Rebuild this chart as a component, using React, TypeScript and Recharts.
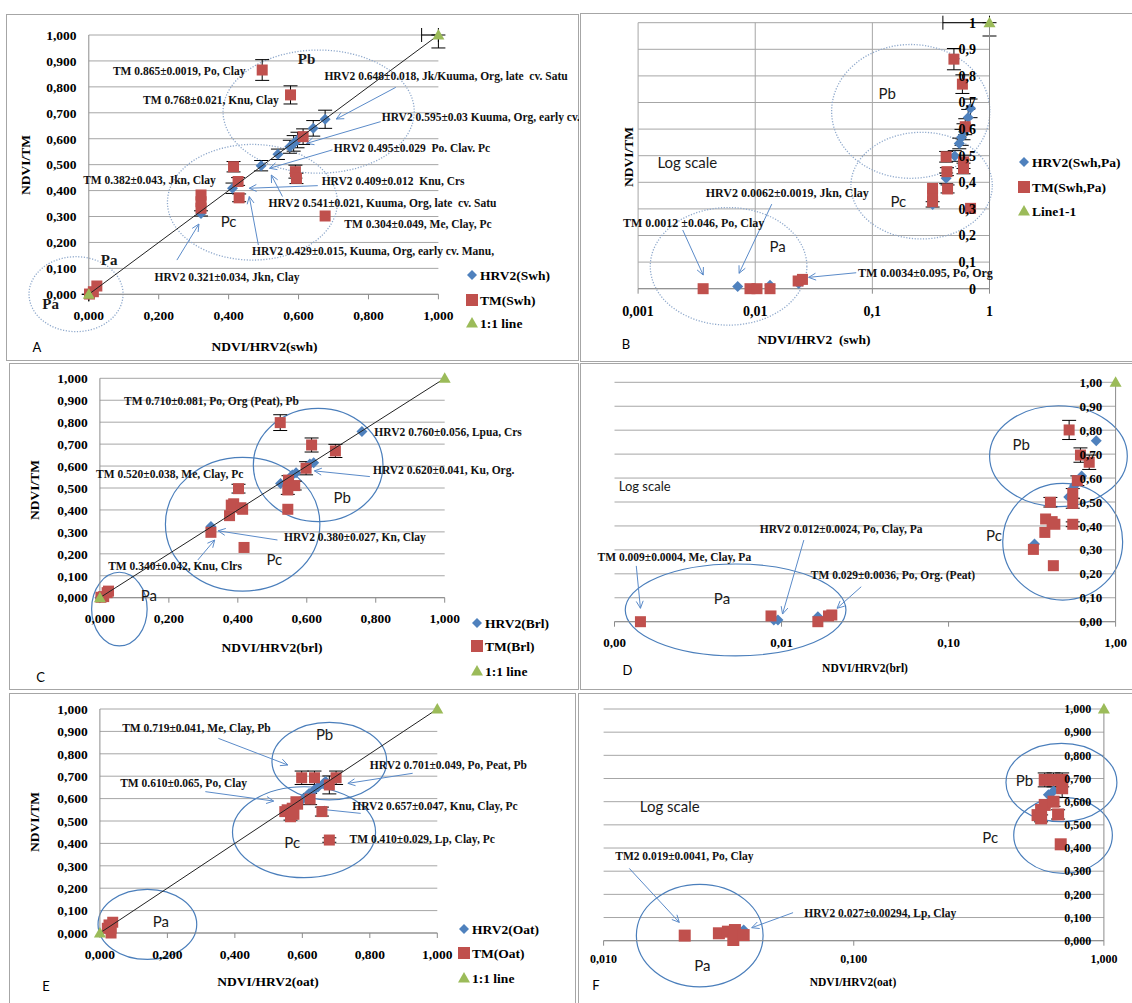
// Six-panel NDVI comparison figure (HRV2 vs TM), linear and log scale versions

import React from 'react';
import {
  ScatterChart, Scatter, XAxis, YAxis, CartesianGrid, ErrorBar,
  ReferenceArea, ReferenceDot, ReferenceLine, Legend,
} from 'recharts';

const BLUE = '#4F81BD';
const RED = '#C0504D';
const GREEN = '#9BBB59';
const GRID = '#A6A6A6';
const AXIS = '#8C8C8C';
const ARROW = '#5B8BC9';
const SERIF = '"Liberation Serif", "Times New Roman", serif';
const SANS = 'Lato, "Open Sans", sans-serif';

// ---------- tick values and labels ----------
const linTicksX = [0, 0.2, 0.4, 0.6, 0.8, 1];
const linLabelsX = ['0,000', '0,200', '0,400', '0,600', '0,800', '1,000'];
const linTicksY = [0, 0.1, 0.2, 0.3, 0.4, 0.5, 0.6, 0.7, 0.8, 0.9, 1];
const linLabelsY = ['0,000', '0,100', '0,200', '0,300', '0,400', '0,500', '0,600', '0,700', '0,800', '0,900', '1,000'];
const logTicksB = [0.001, 0.01, 0.1, 1];
const logLabelsB = ['0,001', '0,01', '0,1', '1'];
const yLabelsB = ['0', '0,1', '0,2', '0,3', '0,4', '0,5', '0,6', '0,7', '0,8', '0,9', '1'];
const logTicksD = [0.001, 0.01, 0.1, 1];
const logLabelsD = ['0,00', '0,01', '0,10', '1,00'];
const yLabelsD = ['0,00', '0,10', '0,20', '0,30', '0,40', '0,50', '0,60', '0,70', '0,80', '0,90', '1,00'];
const logTicksF = [0.01, 0.1, 1];
const logLabelsF = ['0,010', '0,100', '1,000'];

// ---------- series values (x, y, e = error) ----------
const hrv2Swh = [
  { x: 0.002, y: 0.004 }, { x: 0.321, y: 0.312, e: 0.01 }, { x: 0.411, y: 0.409, e: 0.02 },
  { x: 0.493, y: 0.496, e: 0.02 }, { x: 0.541, y: 0.54, e: 0.02 }, { x: 0.575, y: 0.569, e: 0.025 },
  { x: 0.586, y: 0.582, e: 0.03 }, { x: 0.597, y: 0.595, e: 0.03 }, { x: 0.642, y: 0.64, e: 0.03 },
  { x: 0.676, y: 0.675, e: 0.035 },
];
const tmSwh = [
  { x: 0.002, y: 0.001 }, { x: 0.013, y: 0.01 }, { x: 0.023, y: 0.032 },
  { x: 0.321, y: 0.332 }, { x: 0.321, y: 0.357 }, { x: 0.321, y: 0.383 },
  { x: 0.414, y: 0.492, e: 0.02 }, { x: 0.427, y: 0.435, e: 0.015 }, { x: 0.43, y: 0.372, e: 0.015 },
  { x: 0.496, y: 0.865, e: 0.04 }, { x: 0.577, y: 0.769, e: 0.035 }, { x: 0.591, y: 0.473, e: 0.025 },
  { x: 0.594, y: 0.447, e: 0.02 }, { x: 0.613, y: 0.608, e: 0.03 }, { x: 0.676, y: 0.302 },
];
const line11Swh = [{ x: 0, y: 0, ex: [0, 0], ey: [0, 0] }, { x: 1, y: 1, ex: [0.048, 0], ey: [0.05, 0] }];

const hrv2SwhPa = [
  { x: 0.00708, y: 0.008 }, { x: 0.01337, y: 0.013 }, { x: 0.0235, y: 0.02 },
  { x: 0.327, y: 0.317, e: 0.01 }, { x: 0.4265, y: 0.415, e: 0.02 }, { x: 0.505, y: 0.499, e: 0.02 },
  { x: 0.552, y: 0.546, e: 0.02 }, { x: 0.577, y: 0.569, e: 0.03 }, { x: 0.6, y: 0.59, e: 0.03 },
  { x: 0.658, y: 0.644, e: 0.03 }, { x: 0.689, y: 0.678, e: 0.035 },
];
const tmSwhPa = [
  { x: 0.00359, y: 0 }, { x: 0.00902, y: 0 }, { x: 0.01035, y: 0 }, { x: 0.01337, y: 0 },
  { x: 0.02325, y: 0.029 }, { x: 0.0253, y: 0.035 },
  { x: 0.3265, y: 0.327 }, { x: 0.3265, y: 0.35 }, { x: 0.3265, y: 0.377 },
  { x: 0.4265, y: 0.496, e: 0.02 }, { x: 0.433, y: 0.44, e: 0.015 }, { x: 0.4385, y: 0.375, e: 0.015 },
  { x: 0.497, y: 0.863, e: 0.04 }, { x: 0.587, y: 0.769, e: 0.035 }, { x: 0.6, y: 0.477, e: 0.025 },
  { x: 0.6, y: 0.452, e: 0.02 }, { x: 0.621, y: 0.609, e: 0.03 }, { x: 0.689, y: 0.302 },
];
const line11SwhPa = [{ x: 1, y: 1, ex: [0.6, 0], ey: [0.05, 0] }];

const hrv2Brl = [
  { x: 0, y: 0 }, { x: 0.011, y: 0.008 }, { x: 0.322, y: 0.324 }, { x: 0.524, y: 0.521 },
  { x: 0.558, y: 0.559 }, { x: 0.569, y: 0.57 }, { x: 0.609, y: 0.609 }, { x: 0.62, y: 0.615 },
  { x: 0.76, y: 0.757 },
];
const tmBrl = [
  { x: 0.003, y: 0.002 }, { x: 0.011, y: 0.005 }, { x: 0.021, y: 0.023 }, { x: 0.025, y: 0.03 },
  { x: 0.322, y: 0.298 }, { x: 0.376, y: 0.374 }, { x: 0.381, y: 0.422 }, { x: 0.388, y: 0.428 },
  { x: 0.402, y: 0.497, e: 0.02 }, { x: 0.409, y: 0.41 }, { x: 0.414, y: 0.403 }, { x: 0.418, y: 0.229 },
  { x: 0.523, y: 0.798, e: 0.036 }, { x: 0.545, y: 0.491, e: 0.02 }, { x: 0.545, y: 0.403 },
  { x: 0.547, y: 0.536, e: 0.02 }, { x: 0.565, y: 0.511, e: 0.02 }, { x: 0.598, y: 0.59, e: 0.03 },
  { x: 0.614, y: 0.696, e: 0.032 }, { x: 0.683, y: 0.669, e: 0.03 },
];
const line11Brl = [{ x: 0, y: 0 }, { x: 1, y: 1 }];

const hrv2BrlLog = [
  { x: 0.00899, y: 0.007 }, { x: 0.00952, y: 0.007 }, { x: 0.0165, y: 0.021 }, { x: 0.327, y: 0.325 },
  { x: 0.524, y: 0.521 }, { x: 0.558, y: 0.559 }, { x: 0.569, y: 0.57 }, { x: 0.626, y: 0.609 },
  { x: 0.766, y: 0.756 },
];
const tmBrlLog = [
  { x: 0.00143, y: 0 }, { x: 0.00865, y: 0.024 }, { x: 0.0165, y: 0 }, { x: 0.0191, y: 0.024 },
  { x: 0.02, y: 0.028 },
  { x: 0.322, y: 0.302 }, { x: 0.377, y: 0.373 }, { x: 0.381, y: 0.429 }, { x: 0.407, y: 0.499, e: 0.02 },
  { x: 0.417, y: 0.418 }, { x: 0.433, y: 0.407 }, { x: 0.424, y: 0.234 },
  { x: 0.527, y: 0.801, e: 0.04 }, { x: 0.554, y: 0.536, e: 0.02 }, { x: 0.554, y: 0.494, e: 0.02 },
  { x: 0.554, y: 0.407, e: 0.01 }, { x: 0.59, y: 0.589, e: 0.02 }, { x: 0.616, y: 0.696, e: 0.03 },
  { x: 0.695, y: 0.666, e: 0.03 },
];
const line11BrlLog = [{ x: 1, y: 1 }];

const hrv2Oat = [
  { x: 0.022, y: 0.013 }, { x: 0.033, y: 0.009 }, { x: 0.603, y: 0.601 }, { x: 0.613, y: 0.612 },
  { x: 0.62, y: 0.623 }, { x: 0.635, y: 0.638 }, { x: 0.647, y: 0.653 }, { x: 0.663, y: 0.668 },
  { x: 0.669, y: 0.676 },
];
const tmOat = [
  { x: 0.022, y: 0.021 }, { x: 0.027, y: 0.036 }, { x: 0.033, y: 0.021 }, { x: 0.033, y: 0 },
  { x: 0.038, y: 0.048 },
  { x: 0.548, y: 0.542 }, { x: 0.555, y: 0.55 }, { x: 0.565, y: 0.519, e: 0.015 }, { x: 0.57, y: 0.557 },
  { x: 0.575, y: 0.53 }, { x: 0.581, y: 0.586 }, { x: 0.586, y: 0.575 }, { x: 0.598, y: 0.693, e: 0.03 },
  { x: 0.623, y: 0.598, e: 0.025 }, { x: 0.636, y: 0.693, e: 0.03 }, { x: 0.658, y: 0.542, e: 0.02 },
  { x: 0.68, y: 0.661, e: 0.04 }, { x: 0.68, y: 0.415, e: 0.01 }, { x: 0.7, y: 0.693, e: 0.03 },
];
const line11Oat = [{ x: 0, y: 0 }, { x: 1, y: 1 }];

const hrv2OatLog = [{ x: 0.0363, y: 0.046 }, { x: 0.6, y: 0.63 }, { x: 0.629, y: 0.646 }];
const tmOatLog = [
  { x: 0.0211, y: 0.022 }, { x: 0.0289, y: 0.032 }, { x: 0.0314, y: 0.039 }, { x: 0.0335, y: 0.046 },
  { x: 0.033, y: 0.003 }, { x: 0.0363, y: 0.024 },
  { x: 0.543, y: 0.542 }, { x: 0.561, y: 0.564 }, { x: 0.561, y: 0.528, e: 0.015 }, { x: 0.58, y: 0.586 },
  { x: 0.58, y: 0.694, e: 0.03 }, { x: 0.629, y: 0.6, e: 0.02 }, { x: 0.629, y: 0.694, e: 0.03 },
  { x: 0.656, y: 0.545, e: 0.02 }, { x: 0.672, y: 0.416 }, { x: 0.681, y: 0.658, e: 0.04 },
  { x: 0.681, y: 0.694, e: 0.03 },
];
const line11OatLog = [{ x: 1, y: 1 }];

// ---------- annotations (data coordinates) ----------
type Note = { x: number; y: number; t: string; a?: 'start' | 'middle' | 'end' };
type Mark = { x: number; y: number; t: string; a?: 'start' | 'middle' | 'end'; size?: number; serif?: boolean };

const notesA: Note[] = [
  { x: 0.448, y: 0.861, t: 'TM 0.865±0.0019, Po, Clay', a: 'end' },
  { x: 0.5435, y: 0.749, t: 'TM 0.768±0.021, Knu, Clay', a: 'end' },
  { x: 0.674, y: 0.842, t: 'HRV2 0.648±0.018, Jk/Kuuma, Org, late  cv. Satu' },
  { x: 0.838, y: 0.685, t: 'HRV2 0.595±0.03 Kuuma, Org, early cv. Satu' },
  { x: 0.701, y: 0.566, t: 'HRV2 0.495±0.029  Po. Clav. Pc' },
  { x: -0.016, y: 0.441, t: 'TM 0.382±0.043, Jkn, Clay' },
  { x: 0.666, y: 0.437, t: 'HRV2 0.409±0.012  Knu, Crs' },
  { x: 0.514, y: 0.351, t: 'HRV2 0.541±0.021, Kuuma, Org, late  cv. Satu' },
  { x: 0.731, y: 0.271, t: 'TM 0.304±0.049, Me, Clay, Pc' },
  { x: 0.467, y: 0.168, t: 'HRV2 0.429±0.015, Kuuma, Org, early cv. Manu,' },
  { x: 0.188, y: 0.068, t: 'HRV2 0.321±0.034, Jkn, Clay' },
];
const arrowsA = [
  [0.878, 0.798, 0.708, 0.676], [0.835, 0.666, 0.623, 0.582], [0.697, 0.557, 0.517, 0.486],
  [0.655, 0.419, 0.459, 0.409], [0.554, 0.377, 0.522, 0.46], [0.485, 0.19, 0.459, 0.377],
  [0.252, 0.132, 0.315, 0.271],
];
const marksA: Mark[] = [
  { x: 0.623, y: 0.91, t: 'Pb', serif: true }, { x: 0.4, y: 0.28, t: 'Pc' },
  { x: 0.058, y: 0.132, t: 'Pa', serif: true }, { x: -0.109, y: -0.037, t: 'Pa', serif: true },
];
const ellA = [[0.384, 0.931, 0.467, 0.942], [0.225, 0.711, 0.132, 0.578], [-0.171, 0.098, -0.144, 0.145]];

const notesB: Note[] = [
  { x: 0.003773, y: 0.362, t: 'HRV2 0.0062±0.0019, Jkn, Clay' },
  { x: 0.000743, y: 0.248, t: 'TM 0.0012 ±0.046, Po, Clay' },
  { x: 0.0753, y: 0.058, t: 'TM 0.0034±0.095, Po, Org' },
];
const arrowsB = [
  [0.01384, 0.318, 0.00728, 0.058], [0.002404, 0.2206, 0.003597, 0.0514], [0.0728, 0.06, 0.02857, 0.0426],
];
const marksB: Mark[] = [
  { x: 0.1337, y: 0.732, t: 'Pb' }, { x: 0.1667, y: 0.327, t: 'Pc' }, { x: 0.01556, y: 0.158, t: 'Pa' },
  { x: 0.001462, y: 0.475, t: 'Log scale', a: 'start' },
];
const ellB = [[0.0449, 1.007, 0.415, 0.918], [0.0656, 1.057, 0.187, 0.588], [0.00127, 0.0276, -0.137, 0.305]];

const notesC: Note[] = [
  { x: 0.07, y: 0.898, t: 'TM 0.710±0.081, Po, Org (Peat), Pb' },
  { x: 0.796, y: 0.754, t: 'HRV2 0.760±0.056, Lpua, Crs' },
  { x: -0.011, y: 0.564, t: 'TM 0.520±0.038, Me, Clay, Pc' },
  { x: 0.792, y: 0.582, t: 'HRV2 0.620±0.041, Ku, Org.' },
  { x: 0.534, y: 0.275, t: 'HRV2 0.380±0.027, Kn, Clay' },
  { x: 0.024, y: 0.144, t: 'TM 0.340±0.042, Knu, Clrs' },
];
const arrowsC = [[0.783, 0.552, 0.622, 0.578], [0.515, 0.263, 0.343, 0.305], [0.284, 0.172, 0.333, 0.263]];
const marksC: Mark[] = [{ x: 0.703, y: 0.457, t: 'Pb' }, { x: 0.506, y: 0.172, t: 'Pc' }, { x: 0.142, y: 0.008, t: 'Pa' }];
const ellC = [[0.445, 0.821, 0.347, 0.863], [0.19, 0.638, 0.03, 0.64], [-0.024, 0.137, -0.22, 0.116]];

const notesD: Note[] = [
  { x: 0.0074, y: 0.386, t: 'HRV2 0.012±0.0024, Po, Clay, Pa' },
  { x: 0.000792, y: 0.272, t: 'TM 0.009±0.0004, Me, Clay, Pa' },
  { x: 0.01496, y: 0.194, t: 'TM 0.029±0.0036, Po, Org. (Peat)' },
];
const arrowsD = [[0.0136, 0.341, 0.01014, 0.032], [0.00135, 0.233, 0.00143, 0.056], [0.03, 0.146, 0.0215, 0.056]];
const marksD: Mark[] = [
  { x: 0.272, y: 0.738, t: 'Pb' }, { x: 0.187, y: 0.358, t: 'Pc' }, { x: 0.0044, y: 0.097, t: 'Pa' },
  { x: 0.00106, y: 0.564, t: 'Log scale', a: 'start', size: 13 },
];
const ellD = [[0.176, 1.175, 0.481, 0.902], [0.211, 1.102, 0.0905, 0.578], [0.00116, 0.0243, -0.143, 0.241]];

const notesE: Note[] = [
  { x: 0.066, y: 0.917, t: 'TM 0.719±0.041, Me, Clay, Pb' },
  { x: 0.8, y: 0.75, t: 'HRV2 0.701±0.049, Po, Peat, Pb' },
  { x: 0.06, y: 0.671, t: 'TM 0.610±0.065, Po, Clay' },
  { x: 0.748, y: 0.568, t: 'HRV2 0.657±0.047, Knu, Clay, Pc' },
  { x: 0.74, y: 0.418, t: 'TM 0.410±0.029, Lp, Clay, Pc' },
];
const arrowsE = [
  [0.351, 0.869, 0.557, 0.75], [0.927, 0.713, 0.735, 0.668], [0.3125, 0.631, 0.515, 0.589], [0.773, 0.534, 0.645, 0.554],
];
const marksE: Mark[] = [{ x: 0.666, y: 0.887, t: 'Pb' }, { x: 0.57, y: 0.403, t: 'Pc' }, { x: 0.181, y: 0.051, t: 'Pa' }];
const ellE = [[0.51, 0.85, 0.594, 0.94], [0.393, 0.817, 0.247, 0.653], [-0.0055, 0.287, -0.118, 0.195]];

const notesF: Note[] = [
  { x: 0.01113, y: 0.365, t: 'TM2 0.019±0.0041, Po, Clay' },
  { x: 0.0634, y: 0.118, t: 'HRV2 0.027±0.00294, Lp, Clay' },
];
const arrowsF = [[0.01267, 0.312, 0.02007, 0.079], [0.0572, 0.121, 0.0391, 0.056]];
const marksF: Mark[] = [
  { x: 0.481, y: 0.691, t: 'Pb' }, { x: 0.351, y: 0.445, t: 'Pc' }, { x: 0.0248, y: -0.109, t: 'Pa' },
  { x: 0.01396, y: 0.578, t: 'Log scale', a: 'start' },
];
const ellF = [[0.406, 1.127, 0.514, 0.852], [0.436, 1.081, 0.291, 0.619], [0.01352, 0.04341, -0.199, 0.243]];

// ---------- shapes ----------
const marker = (kind: 'd' | 's' | 't', size = 11) => (p: any) => {
  const { cx, cy } = p;
  if (cx == null || cy == null) return <g />;
  const h = size / 2;
  if (kind === 'd') return <path d={`M${cx} ${cy - h}L${cx + h} ${cy}L${cx} ${cy + h}L${cx - h} ${cy}Z`} fill={BLUE} />;
  if (kind === 's') return <rect x={cx - h} y={cy - h} width={size} height={size} fill={RED} />;
  return <path d={`M${cx} ${cy - h}L${cx + h} ${cy + h * 0.75}L${cx - h} ${cy + h * 0.75}Z`} fill={GREEN} />;
};

const arrowShape = (p: any) => {
  const { x1, y1, x2, y2 } = p;
  if ([x1, y1, x2, y2].some((v) => v == null || isNaN(v))) return <g />;
  const a = Math.atan2(y2 - y1, x2 - x1);
  const L = 8;
  const s = 0.45;
  const q1 = `${x2 - L * Math.cos(a - s)},${y2 - L * Math.sin(a - s)}`;
  const q2 = `${x2 - L * Math.cos(a + s)},${y2 - L * Math.sin(a + s)}`;
  return (
    <g>
      <line x1={x1} y1={y1} x2={x2} y2={y2} stroke={ARROW} strokeWidth={1} />
      <polyline points={`${q1} ${x2},${y2} ${q2}`} fill="none" stroke={ARROW} strokeWidth={1} />
    </g>
  );
};

const ellipseShape = (dotted: boolean) => (p: any) => {
  const { x, y, width, height } = p;
  if ([x, y, width, height].some((v) => v == null || isNaN(v))) return <g />;
  return (
    <ellipse
      cx={x + width / 2} cy={y + height / 2} rx={Math.abs(width / 2)} ry={Math.abs(height / 2)}
      fill="none" stroke={dotted ? '#8FA9CC' : '#4A7EBB'} strokeWidth={dotted ? 1.3 : 1.2}
      strokeDasharray={dotted ? '1.2 1.6' : undefined}
    />
  );
};

// ---------- panel ----------
interface PanelProps {
  box: number[];
  plot: number[];
  log: boolean;
  xDomain: number[];
  xTicks: number[];
  xLabels: string[];
  yLabels: string[];
  font: number;
  xGap: number;
  yGap: number;
  gridV?: boolean;
  hrv2: any[];
  tm: any[];
  line11: any[];
  lineOn: boolean;
  triErr?: boolean;
  ell: number[][];
  dotted?: boolean;
  notes: Note[];
  arrows: number[][];
  marks: Mark[];
  noteSize?: number;
  sq?: number;
  legend?: { x: number; rows: number[]; names: string[] };
}

function Panel(pp: PanelProps) {
  const [bx, by, bw, bh] = pp.box;
  const [pl, pr, pt, pb] = pp.plot;
  const XH = 30;
  const YW = 50;
  const margin = {
    top: pt - by,
    right: bx + bw - pr,
    bottom: by + bh - pb - XH,
    left: pp.log ? pl - bx : pl - bx - YW,
  };
  const tickStyle = { fontSize: pp.font, fontFamily: SERIF, fontWeight: 'bold', fill: '#000' };
  const withE = (d: any[]) => d.map((r) => ({ e: 0, ...r }));
  const fmtX = (v: number) => pp.xLabels[pp.xTicks.indexOf(v)] ?? '';
  const fmtY = (v: number) => pp.yLabels[linTicksY.indexOf(v)] ?? '';
  const ns = pp.noteSize ?? 11.5;
  const sq = pp.sq ?? 11;

  const legendContent = () => {
    if (!pp.legend) return null;
    const r0 = pp.legend.rows[0];
    return (
      <svg width={170} height={pp.legend.rows[2] - r0 + 20}>
        {pp.legend.names.map((n, i) => {
          const cy = pp.legend!.rows[i] - r0 + 10;
          const m = marker(i === 0 ? 'd' : i === 1 ? 's' : 't', i === 0 ? 10 : 12)({ cx: 6, cy });
          return (
            <g key={n}>
              {m}
              <text x={14} y={cy} dy="0.35em" fontFamily={SERIF} fontWeight="bold" fontSize={13.5} fill="#000">{n}</text>
            </g>
          );
        })}
      </svg>
    );
  };

  return (
    <div style={{ position: 'absolute', left: bx, top: by }}>
      <ScatterChart width={bw} height={bh} margin={margin}>
        <CartesianGrid stroke={GRID} vertical={!!pp.gridV} horizontal />
        <XAxis
          type="number" dataKey="x" scale={pp.log ? 'log' : 'linear'} domain={pp.xDomain}
          ticks={pp.xTicks} interval={0} height={XH}
          tickFormatter={fmtX} tick={tickStyle} tickSize={5} tickMargin={pp.xGap}
          tickLine={{ stroke: AXIS }} axisLine={{ stroke: AXIS }}
        />
        <YAxis
          type="number" dataKey="y" domain={[0, 1]} ticks={linTicksY} interval={0}
          width={pp.log ? 40 : YW} orientation={pp.log ? 'right' : 'left'} mirror={pp.log}
          tickFormatter={fmtY} tick={tickStyle} tickLine={false} tickSize={2} tickMargin={pp.yGap}
          axisLine={{ stroke: AXIS }}
        />
        {pp.ell.map((e, i) => (
          <ReferenceArea
            key={'e' + i} x1={e[0]} x2={e[1]} y1={e[2]} y2={e[3]} ifOverflow="visible"
            shape={ellipseShape(!!pp.dotted)}
          />
        ))}
        {pp.arrows.map((a, i) => (
          <ReferenceLine
            key={'a' + i} segment={[{ x: a[0], y: a[1] }, { x: a[2], y: a[3] }]} ifOverflow="visible"
            shape={arrowShape}
          />
        ))}
        <Scatter name="hrv2" data={withE(pp.hrv2)} shape={marker('d', 11)} isAnimationActive={false}>
          <ErrorBar dataKey="e" direction="y" width={7} stroke="#000" strokeWidth={1} />
        </Scatter>
        <Scatter name="tm" data={withE(pp.tm)} shape={marker('s', sq)} isAnimationActive={false}>
          <ErrorBar dataKey="e" direction="y" width={7} stroke="#000" strokeWidth={1} />
        </Scatter>
        <Scatter
          name="line11" data={pp.line11} shape={marker('t', 12)} isAnimationActive={false}
          line={pp.lineOn ? { stroke: '#222', strokeWidth: 1 } : false}
        >
          {pp.triErr && <ErrorBar dataKey="ex" direction="x" width={7} stroke="#000" strokeWidth={1} />}
          {pp.triErr && <ErrorBar dataKey="ey" direction="y" width={7} stroke="#000" strokeWidth={1} />}
        </Scatter>
        {pp.notes.map((n, i) => (
          <ReferenceDot
            key={'n' + i} x={n.x} y={n.y} r={0} ifOverflow="visible"
            shape={(p: any) => (
              <text
                x={p.cx} y={p.cy} dy="0.35em" textAnchor={n.a ?? 'start'} fontFamily={SERIF}
                fontWeight="bold" fontSize={ns} fill="#111" style={{ whiteSpace: 'pre' }}
              >{n.t}</text>
            )}
          />
        ))}
        {pp.marks.map((m, i) => (
          <ReferenceDot
            key={'m' + i} x={m.x} y={m.y} r={0} ifOverflow="visible"
            shape={(p: any) => (
              <text
                x={p.cx} y={p.cy} dy="0.35em" textAnchor={m.a ?? 'middle'}
                fontFamily={m.serif ? SERIF : SANS} fontWeight={m.serif ? 'bold' : 'normal'}
                fontSize={m.size ?? 15} fill="#1a1a1a"
              >{m.t}</text>
            )}
          />
        ))}
        {pp.legend && (
          <Legend
            layout="vertical" align="center" verticalAlign="middle"
            wrapperStyle={{ left: pp.legend.x - bx - 6, top: pp.legend.rows[0] - by - 10, width: 170 }}
            content={legendContent}
          />
        )}
      </ScatterChart>
    </div>
  );
}

// ---------- page text helpers ----------
const Txt = (p: { x: number; y: number; t: string; size?: number; serif?: boolean; rot?: boolean; left?: boolean }) => (
  <div
    style={{
      position: 'absolute', left: p.x, top: p.y, whiteSpace: 'pre',
      transform: `translate(${p.left ? '0' : '-50%'}, -50%)${p.rot ? ' rotate(-90deg)' : ''}`,
      fontFamily: p.serif === false ? SANS : SERIF, fontWeight: p.serif === false ? 'normal' : 'bold',
      fontSize: p.size ?? 13.5, color: '#000', lineHeight: 1,
    }}
  >{p.t}</div>
);

const Frame = (p: { l: number; t: number; w: number; h: number }) => (
  <div style={{ position: 'absolute', left: p.l, top: p.t, width: p.w, height: p.h, border: '1px solid #A6A6A6', boxSizing: 'border-box' }} />
);

export default function App() {
  return (
    <div style={{ position: 'absolute', left: 0, top: 0, width: 1132, height: 1003, overflow: 'hidden', background: '#fff' }}>
      <Frame l={6} t={14} w={573} h={347} />
      <Frame l={580} t={13} w={560} h={349} />
      <Frame l={9} t={363} w={570} h={327} />
      <Frame l={580} t={363} w={560} h={327} />
      <Frame l={9} t={693} w={567} h={320} />
      <Frame l={578} t={693} w={560} h={320} />

      {/* A */}
      <Panel
        box={[6, 14, 573, 347]} plot={[88.8, 438.4, 35, 294.3]} log={false}
        xDomain={[0, 1]} xTicks={linTicksX} xLabels={linLabelsX} yLabels={linLabelsY}
        font={13.5} xGap={11.6} yGap={10.2}
        hrv2={hrv2Swh} tm={tmSwh} line11={line11Swh} lineOn triErr
        ell={ellA} dotted notes={notesA} arrows={arrowsA} marks={marksA}
        legend={{ x: 471.7, rows: [275, 300, 323], names: ['HRV2(Swh)', 'TM(Swh)', '1:1 line'] }}
      />
      <Txt x={25.9} y={165} t="NDVI/TM" rot />
      <Txt x={264.5} y={347} t="NDVI/HRV2(swh)" />
      <Txt x={37} y={347} t="A" serif={false} size={13} />

      {/* B */}
      <Panel
        box={[580, 13, 552, 349]} plot={[638.1, 989.5, 22.7, 288.7]} log
        xDomain={[0.001, 1]} xTicks={logTicksB} xLabels={logLabelsB} yLabels={yLabelsB}
        font={14} xGap={12} yGap={11.5} gridV
        hrv2={hrv2SwhPa} tm={tmSwhPa} line11={line11SwhPa} lineOn={false} triErr
        ell={ellB} dotted notes={notesB} arrows={arrowsB} marks={marksB} noteSize={12}
        legend={{ x: 1024.4, rows: [162, 187, 211], names: ['HRV2(Swh,Pa)', 'TM(Swh,Pa)', 'Line1-1'] }}
      />
      <Txt x={629.3} y={157} t="NDVI/TM" rot />
      <Txt x={814} y={340} t="NDVI/HRV2  (swh)" />
      <Txt x={626} y={344} t="B" serif={false} size={13} />

      {/* C */}
      <Panel
        box={[9, 363, 570, 327]} plot={[99.9, 444.7, 378.3, 597.7]} log={false}
        xDomain={[0, 1]} xTicks={linTicksX} xLabels={linLabelsX} yLabels={linLabelsY}
        font={13.5} xGap={11.2} yGap={10.2}
        hrv2={hrv2Brl} tm={tmBrl} line11={line11Brl} lineOn
        ell={ellC} notes={notesC} arrows={arrowsC} marks={marksC}
        legend={{ x: 477.2, rows: [623, 646, 671], names: ['HRV2(Brl)', 'TM(Brl)', '1:1 line'] }}
      />
      <Txt x={35.1} y={490} t="NDVI/TM" rot />
      <Txt x={272} y={648} t="NDVI/HRV2(brl)" />
      <Txt x={40.7} y={677} t="C" serif={false} size={13} />

      {/* D */}
      <Panel
        box={[580, 363, 552, 327]} plot={[614.5, 1115.6, 382.3, 621.7]} log
        xDomain={[0.001, 1]} xTicks={logTicksD} xLabels={logLabelsD} yLabels={yLabelsD}
        font={13} xGap={11.4} yGap={11.4}
        hrv2={hrv2BrlLog} tm={tmBrlLog} line11={line11BrlLog} lineOn={false}
        ell={ellD} notes={notesD} arrows={arrowsD} marks={marksD}
      />
      <Txt x={865} y={669} t="NDVI/HRV2(brl)" size={11.5} />
      <Txt x={627.5} y={670} t="D" serif={false} size={13} />

      {/* E */}
      <Panel
        box={[9, 693, 567, 310]} plot={[99.9, 437.3, 709, 933]} log={false}
        xDomain={[0, 1]} xTicks={linTicksX} xLabels={linLabelsX} yLabels={linLabelsY}
        font={13.5} xGap={11.2} yGap={10.2}
        hrv2={hrv2Oat} tm={tmOat} line11={line11Oat} lineOn
        ell={ellE} notes={notesE} arrows={arrowsE} marks={marksE}
        legend={{ x: 464.3, rows: [929, 953, 978], names: ['HRV2(Oat)', 'TM(Oat)', '1:1 line'] }}
      />
      <Txt x={35.1} y={822} t="NDVI/TM" rot />
      <Txt x={268} y={982} t="NDVI/HRV2(oat)" />
      <Txt x={46} y={986} t="E" serif={false} size={13} />

      {/* F */}
      <Panel
        box={[578, 693, 554, 310]} plot={[603.6, 1103.9, 709, 940.7]} log
        xDomain={[0.01, 1]} xTicks={logTicksF} xLabels={logLabelsF} yLabels={linLabelsY}
        font={12} xGap={9} yGap={10.6} sq={12}
        hrv2={hrv2OatLog} tm={tmOatLog} line11={line11OatLog} lineOn={false}
        ell={ellF} notes={notesF} arrows={arrowsF} marks={marksF}
      />
      <Txt x={853} y={983} t="NDVI/HRV2(oat)" size={11.5} />
      <Txt x={596} y={985} t="F" serif={false} size={13} />
    </div>
  );
}
